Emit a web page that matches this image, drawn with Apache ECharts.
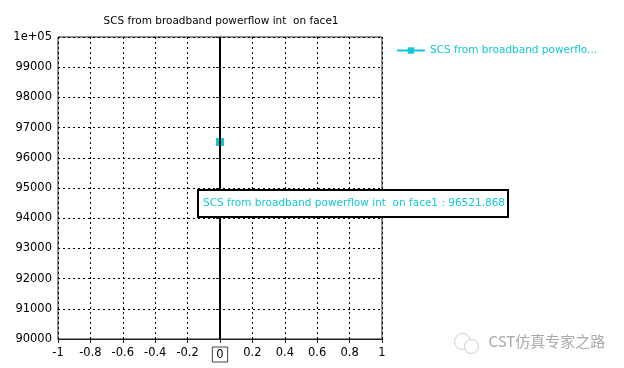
<!DOCTYPE html>
<html><head><meta charset="utf-8">
<script src="https://cdn.jsdelivr.net/npm/echarts@6/dist/echarts.min.js"></script>
<style>html,body{margin:0;padding:0;background:#fff}#c{width:624px;height:368px}</style>
</head><body><div id="c"></div>
<script>
const titleText = 'SCS from broadband powerflow int  on face1';
const seriesName = 'SCS from broadband powerflow int  on face1';
const xValues = [0];
const yValues = [96521.868];
const xMin = -1, xMax = 1, xStep = 0.2;
const yMin = 90000, yMax = 100000, yStep = 1000;
const cursorX = 0;
const watermark = 'CST仿真专家之路';

const FONT = 'DejaVu Sans';
const CYAN = '#12c9d3';
const chart = echarts.init(document.getElementById('c'), null, {renderer: 'canvas'});
const data = xValues.map((x, i) => [x, yValues[i]]);

chart.setOption({
  animation: false,
  backgroundColor: '#fff',
  title: {
    text: titleText, left: 216, top: 11, textAlign: 'center',
    textStyle: {fontFamily: FONT, fontSize: 10.5, fontWeight: 'normal', color: '#000'}
  },
  legend: {
    left: 391, top: 40, itemWidth: 28, itemHeight: 8, itemGap: 6,
    textStyle: {fontFamily: FONT, fontSize: 10.5, color: CYAN, width: 174, overflow: 'truncate', ellipsis: '...'},
    data: [seriesName]
  },
  grid: {left: 58, right: 242, top: 37, bottom: 29, show: true, borderColor: '#222', borderWidth: 1, containLabel: false},
  xAxis: {
    type: 'value', min: xMin, max: xMax, interval: xStep,
    axisLine: {show: true, onZero: false, lineStyle: {color: '#222', width: 1}},
    axisTick: {show: true, length: 4, lineStyle: {color: '#222'}},
    splitLine: {show: true, lineStyle: {color: '#000', type: [2, 3], width: 1}},
    axisLabel: {
      fontFamily: FONT, fontSize: 11.5, color: '#000', margin: 8,
      formatter: v => Math.abs(v - cursorX) < 1e-9 ? '{b|' + (+v.toFixed(1)) + '}' : String(+v.toFixed(1)),
      rich: {b: {fontFamily: FONT, fontSize: 11.5, color: '#000', borderColor: '#444', borderWidth: 1, padding: [2, 4, 1, 4]}}
    }
  },
  yAxis: {
    type: 'value', min: yMin, max: yMax, interval: yStep,
    axisLine: {show: true, lineStyle: {color: '#222', width: 1}},
    axisTick: {show: true, length: 4, lineStyle: {color: '#222'}},
    splitLine: {show: true, lineStyle: {color: '#000', type: [2, 3], width: 1}},
    axisLabel: {
      fontFamily: FONT, fontSize: 11.5, color: '#000', margin: 6,
      formatter: v => v >= 100000 ? (v / 100000) + 'e+05' : String(v)
    }
  },
  series: [{
    name: seriesName, type: 'line', data: data,
    symbol: 'rect', symbolSize: 8,
    itemStyle: {color: CYAN}, lineStyle: {color: CYAN, width: 2},
    markLine: {
      silent: true, symbol: 'none', animation: false,
      label: {show: false},
      lineStyle: {color: '#000', width: 2, type: 'solid'},
      data: [{xAxis: cursorX}]
    }
  }],
  graphic: [
    {
      type: 'text', left: 197, top: 189, z: 100,
      style: {
        text: seriesName + ' : ' + yValues[0].toFixed(3),
        fontFamily: FONT, fontSize: 10.5, fill: CYAN,
        backgroundColor: '#fff', borderColor: '#000', borderWidth: 2,
        padding: [7, 2, 7, 4]
      }
    },
    {
      type: 'group', left: 452, top: 331,
      children: [
        {type: 'circle', shape: {cx: 9, cy: 8, r: 8}, style: {fill: 'none', stroke: '#ccc', lineWidth: 1}},
        {type: 'circle', shape: {cx: 18, cy: 13, r: 7}, style: {fill: '#fff', stroke: '#ccc', lineWidth: 1}},
        {type: 'text', left: 35, top: 0, style: {text: watermark, fontFamily: 'Noto Sans CJK SC', fontSize: 15, fill: '#aaa'}}
      ]
    }
  ]
});
</script></body></html>
